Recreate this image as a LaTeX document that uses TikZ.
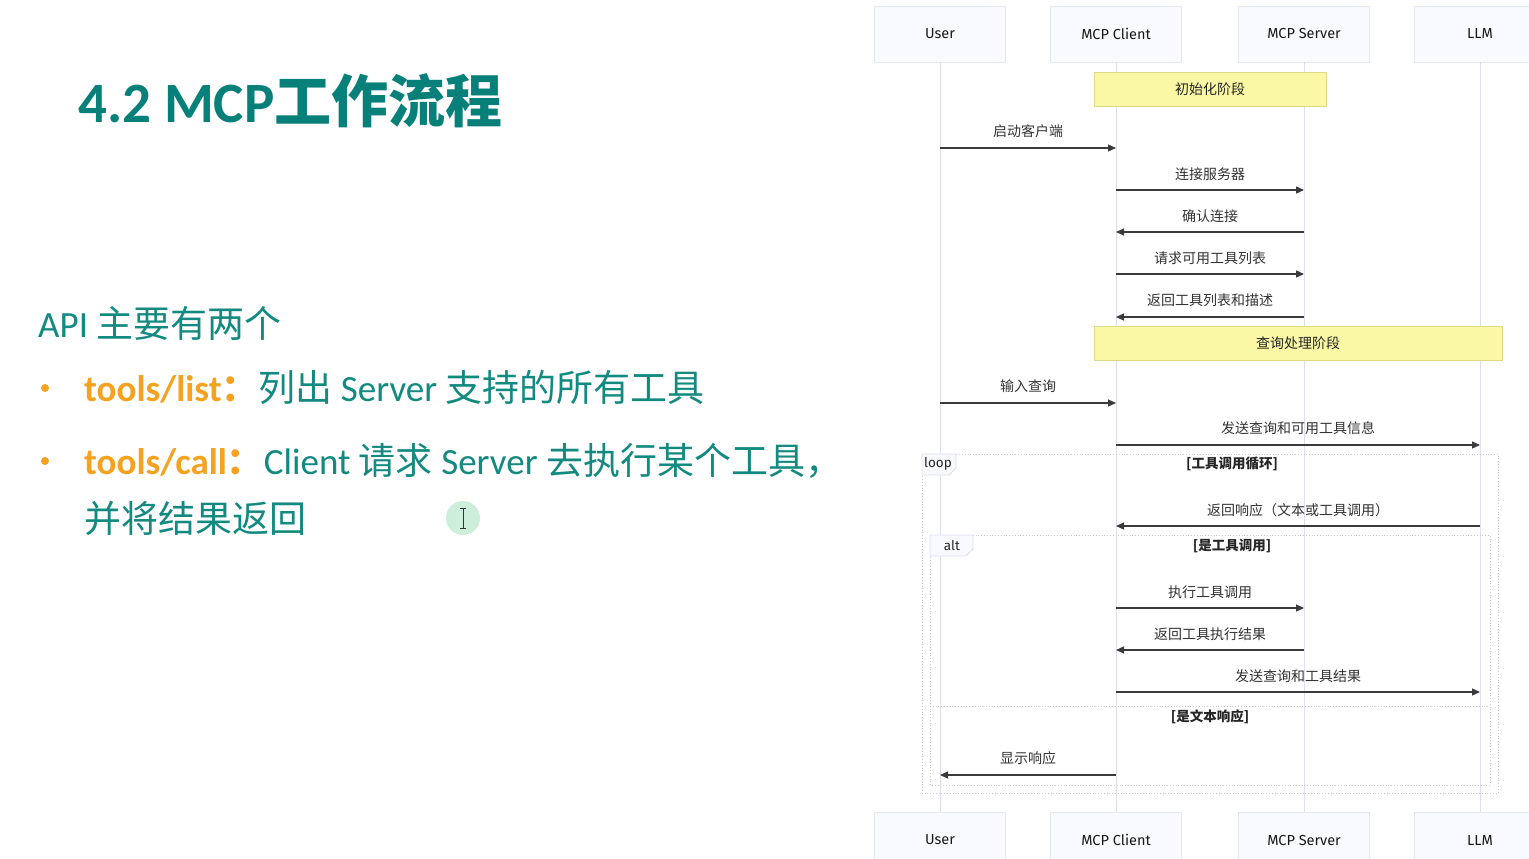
\documentclass[tikz,border=0pt]{standalone}
\usepackage{fontspec}
\setmainfont{Carlito}
\newfontfamily\cjk{Noto Sans CJK SC}
\newfontfamily\seqf{Fira Sans}
\usepackage{tikz}
\usetikzlibrary{arrows.meta,positioning,calc}
\definecolor{titlecol}{HTML}{08807A}
\definecolor{bodycol}{HTML}{138A80}
\definecolor{orangecol}{HTML}{F4A21F}
\definecolor{actbg}{HTML}{F9FAFF}
\definecolor{actrule}{HTML}{E6E8F4}
\definecolor{lifeline}{HTML}{DDDDF6}
\definecolor{notebg}{HTML}{FAF8A4}
\definecolor{noterule}{HTML}{DCD98A}
\definecolor{msgcol}{HTML}{3A3A3A}
\definecolor{framecol}{HTML}{CACAD2}
\definecolor{labbg}{HTML}{F8F8FF}
\definecolor{labrule}{HTML}{DEDEF2}
\definecolor{cursorbg}{HTML}{CDEEDB}

\begin{document}
\begin{tikzpicture}[x=1pt,y=-1pt,
  actor/.style={draw=actrule,fill=actbg,minimum width=131pt,minimum height=56pt,
                inner sep=0pt,font=\seqf\fontsize{14.5}{16}\selectfont,text=black!90},
  life/.style={draw=lifeline,line width=1pt},
  msg/.style={-{Triangle[length=8pt,width=7pt]},draw=msgcol,line width=1.2pt},
  lbl/.style={font=\cjk\fontsize{14}{15}\selectfont,text=black!80,inner sep=0pt},
  note/.style={draw=noterule,fill=notebg,minimum height=34pt,inner sep=0pt,
               font=\cjk\fontsize{14}{15}\selectfont,text=black!85},
  frame/.style={draw=framecol,dotted,line width=0.8pt},
  labbox/.style={draw=labrule,fill=labbg,line width=0.8pt},
  cond/.style={font=\cjk\bfseries\fontsize{13.5}{15}\selectfont,text=black!85,inner sep=0pt},
  tag/.style={font=\seqf\fontsize{13.5}{15}\selectfont,text=black!85,inner sep=0pt},
  body/.style={anchor=base west,inner sep=0pt,text=bodycol,font=\fontsize{37}{40}\selectfont},
  dot/.style={circle,fill=orangecol,minimum size=8pt,inner sep=0pt}
]
\useasboundingbox[fill=white] (0,0) rectangle (1529,859);

% left column
\node[anchor=base west,inner sep=0pt,text=titlecol,font=\bfseries\fontsize{57}{60}\selectfont]
  (title) at (78,122) {4.2 MCP{\cjk 工作流程}};
\node[body] (api) at (38,337) {API {\cjk 主要有两个}};
\node[dot] (dot1) at (45,388) {};
\node[body] (list) at (84,401)
  {{\bfseries\color{orangecol}tools/list{\cjk ：}}{\cjk 列出} Server {\cjk 支持的所有工具}};
\node[dot] (dot2) at (45,461) {};
\node[body] (call) at (84,474)
  {{\bfseries\color{orangecol}tools/call{\cjk ：}}Client {\cjk 请求} Server {\cjk 去执行某个工具，}};
\node[body] (callb) at (84,532) {{\cjk 并将结果返回}};
\node[circle,fill=cursorbg,minimum size=34pt,inner sep=0pt] (cursor) at (463,518) {};
\draw[line width=1pt,black!80] (cursor.center) ++(0,-10) -- ++(0,20)
  (cursor.center) ++(-3,-10) -- ++(6,0) (cursor.center) ++(-3,10) -- ++(6,0);

% participants
\node[actor] (user) at (940,34) {User};
\node[actor] (client) at (1116,34) {MCP Client};
\node[actor] (server) at (1304,34) {MCP Server};
\node[actor] (llm) at (1480,34) {LLM};
\node[actor] (userb) at (940,840) {User};
\node[actor] (clientb) at (1116,840) {MCP Client};
\node[actor] (serverb) at (1304,840) {MCP Server};
\node[actor] (llmb) at (1480,840) {LLM};
\foreach \a in {user,client,server,llm}
  \draw[life] (\a.south) -- (\a b.north);

% initialisation
\node[note,minimum width=232pt] (init) at (1210,89) {初始化阶段};
\draw[msg] (user |- 0,148) -- node[lbl,yshift=17pt] {启动客户端} (client |- 0,148);
\draw[msg] (client |- 0,190) -- node[lbl,yshift=16pt] {连接服务器} (server |- 0,190);
\draw[msg] (server |- 0,232) -- node[lbl,yshift=16pt] {确认连接} (client |- 0,232);
\draw[msg] (client |- 0,274) -- node[lbl,yshift=16pt] {请求可用工具列表} (server |- 0,274);
\draw[msg] (server |- 0,317) -- node[lbl,yshift=17pt] {返回工具列表和描述} (client |- 0,317);

% query handling
\node[note,minimum width=408pt] (query) at (1298,343) {查询处理阶段};
\draw[msg] (user |- 0,403) -- node[lbl,yshift=17pt] {输入查询} (client |- 0,403);
\draw[msg] (client |- 0,445) -- node[lbl,yshift=17pt] {发送查询和可用工具信息} (llm |- 0,445);

% loop
\draw[frame] (922,454) rectangle (1498,793);
\draw[labbox] (922,454) -- (956,454) -- (956,468) -- (949,475) -- (922,475) -- cycle;
\node[tag] (looptag) at (938,464) {loop};
\node[cond] (loopcond) at (1232,464) {[工具调用循环]};
\draw[msg] (llm |- 0,526) -- node[lbl,yshift=16pt] {返回响应（文本或工具调用）} (client |- 0,526);

% alt
\draw[frame] (930,535) rectangle (1490,785);
\draw[labbox] (930,535) -- (973,535) -- (973,549) -- (966,556) -- (930,556) -- cycle;
\node[tag] (alttag) at (952,546) {alt};
\node[cond] (altcond) at (1232,546) {[是工具调用]};
\draw[msg] (client |- 0,608) -- node[lbl,yshift=16pt] {执行工具调用} (server |- 0,608);
\draw[msg] (server |- 0,650) -- node[lbl,yshift=16pt] {返回工具执行结果} (client |- 0,650);
\draw[msg] (client |- 0,692) -- node[lbl,yshift=16pt] {发送查询和工具结果} (llm |- 0,692);
\draw[frame] (930,706) -- (1490,706);
\node[cond] (elsecond) at (1210,717) {[是文本响应]};
\draw[msg] (client |- 0,775) -- node[lbl,yshift=17pt] {显示响应} (user |- 0,775);
\end{tikzpicture}
\end{document}
